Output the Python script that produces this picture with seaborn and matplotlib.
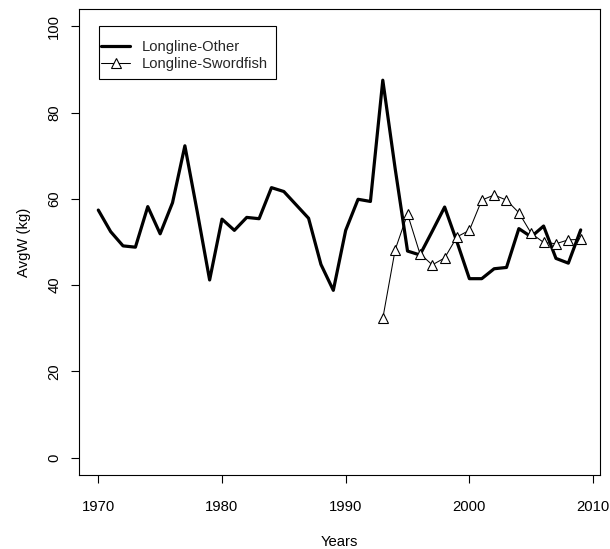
import matplotlib
matplotlib.use("Agg")
import matplotlib.pyplot as plt
from matplotlib.patches import Rectangle
import seaborn as sns
import pandas as pd

years_other = list(range(1970, 2010))
avgw_other = [57.4, 52.4, 49.1, 48.8, 58.2, 51.9, 59.1, 72.3, 57.0, 41.2,
              55.3, 52.7, 55.7, 55.4, 62.6, 61.7, 58.6, 55.5, 44.8, 38.8,
              52.7, 59.9, 59.4, 87.5, 67.0, 47.9, 47.0, 52.5, 58.1, 50.0,
              41.5, 41.5, 43.8, 44.1, 53.1, 51.2, 53.7, 46.2, 45.1, 52.8]

years_sword = list(range(1993, 2010))
avgw_sword = [32.3, 48.2, 56.5, 47.3, 44.7, 46.3, 51.2, 52.7, 59.7, 60.9,
              59.7, 56.8, 52.0, 49.9, 49.6, 50.5, 50.6]

x_ticks = [1970, 1980, 1990, 2000, 2010]
y_ticks = [0, 20, 40, 60, 80, 100]

df_other = pd.DataFrame({"Years": years_other, "AvgW": avgw_other})
df_sword = pd.DataFrame({"Years": years_sword, "AvgW": avgw_sword})

sns.set_style("ticks")
plt.rcParams['font.family'] = ['Liberation Sans', 'DejaVu Sans']

W, H = 610, 549
fig = plt.figure(figsize=(W / 100, H / 100), dpi=100)
ax = fig.add_axes([79 / W, 1 - 475 / H, (600 - 79) / W, (475 - 9) / H])

sns.lineplot(data=df_other, x="Years", y="AvgW", ax=ax, color="black",
             linewidth=2.3, label="Longline-Other")
sns.lineplot(data=df_sword, x="Years", y="AvgW", ax=ax, color="black",
             linewidth=0.75, marker="^", markersize=7.5, markerfacecolor="white",
             markeredgecolor="black", markeredgewidth=0.8, label="Longline-Swordfish")

ax.set_xlim(1968.44, 2010.56)
ax.set_ylim(-4, 104)
ax.set_xticks(x_ticks)
ax.set_yticks(y_ticks)
ax.set_xticklabels([str(t) for t in x_ticks], fontsize=10.7)
ax.set_yticklabels([str(t) for t in y_ticks], fontsize=10.7, rotation=90, va="center")
ax.tick_params(axis="both", direction="out", length=5.8, width=0.8, color="black",
               labelcolor="black", bottom=True, left=True, top=False, right=False)
ax.tick_params(axis="x", pad=12.5)
ax.tick_params(axis="y", pad=7)
ax.set_xlabel("Years", fontsize=10.7, labelpad=15, color="black")
ax.set_ylabel("AvgW (kg)", fontsize=10.7, labelpad=12, color="black")
for s in ax.spines.values():
    s.set_visible(True)
    s.set_color("black")
    s.set_linewidth(0.8)

leg = ax.legend(loc="upper left", bbox_to_anchor=(101 / W, 1 - 40 / H),
                bbox_transform=fig.transFigure, fontsize=10.6,
                frameon=False, borderpad=0, handlelength=2.0, handletextpad=0.8,
                labelspacing=0.2, borderaxespad=0)
fig.add_artist(Rectangle((99 / W, 1 - 79 / H), 177 / W, 53 / H,
                         transform=fig.transFigure, fill=False,
                         edgecolor="black", linewidth=0.8, zorder=5))

fig.savefig("out.png", dpi=100)
